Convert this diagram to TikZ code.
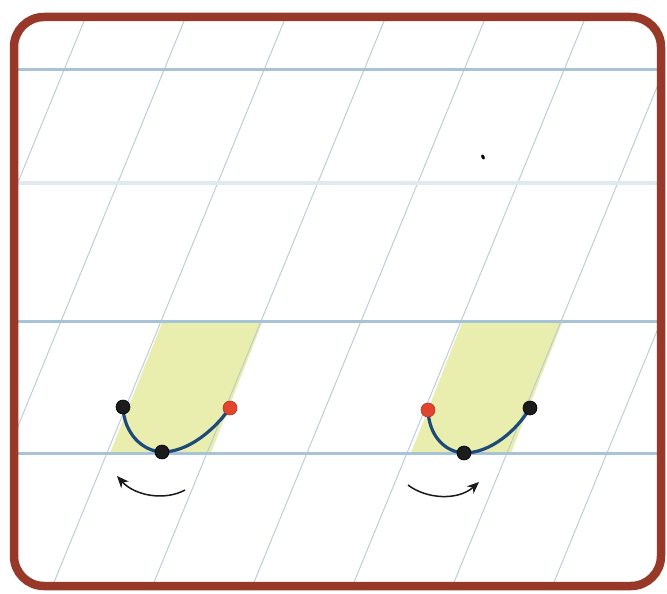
\documentclass[tikz,border=0pt]{standalone}
\usetikzlibrary{arrows.meta}
\definecolor{bordercol}{HTML}{983828}
\definecolor{rulecol}{HTML}{A8C3D5}
\definecolor{faintcol}{HTML}{DFE9F0}
\definecolor{slantcol}{HTML}{B9C9D9}
\definecolor{cellcol}{HTML}{E9EEAE}
\definecolor{strokecol}{HTML}{1E4A7A}
\definecolor{dotred}{HTML}{E2452C}
\definecolor{dotblack}{HTML}{1C1C1C}
\tikzset{
  rule/.style={rulecol, line width=3pt},
  faintrule/.style={faintcol, line width=4pt},
  slant/.style={slantcol, line width=0.9pt},
  cell/.style={fill=cellcol, draw=none},
  stroke/.style={strokecol, line width=3.2pt},
  dotb/.style={circle, fill=dotblack, draw=black, line width=0.6pt, minimum size=14pt, inner sep=0pt},
  dotr/.style={circle, fill=dotred, draw=dotred!80!black, line width=0.6pt, minimum size=14pt, inner sep=0pt},
  turn/.style={black!90, line width=1.5pt, -{Stealth[length=12pt,width=10pt]}},
  frame/.style={bordercol, line width=8.5pt, rounded corners=30pt}
}
\begin{document}
\begin{tikzpicture}[x=1pt,y=-1pt]
\useasboundingbox (0,0) rectangle (667,594);
\fill[white] (0,0) rectangle (667,594);
\begin{scope}
  \clip[rounded corners=28pt] (14,17) rectangle (661,586);
  % cells
  \fill[cell] (162,323) -- (262,323) -- (211,453) -- (110,453) -- cycle;
  \fill[cell] (462,323) -- (562,323) -- (511,453) -- (411,453) -- cycle;
  % slanted lines
  \foreach \k in {-2,...,7} {
    \draw[slant] ({192.7+100*\k},0) -- ({-50.8+100*\k},594);
  }
  % horizontal rules
  \draw[faintrule] (0,183) -- (667,183);
  \draw[rule] (0,70) -- (667,70);
  \draw[rule] (0,321) -- (667,321);
  \draw[rule] (0,453) -- (667,453);
\end{scope}
\draw[frame] (14,17) rectangle (661,586);
% speck
\fill[black] (483,157) ellipse [x radius=1.6pt, y radius=2.6pt, rotate=25];
% first letter element
\coordinate (l1) at (123,407);
\coordinate (b1) at (162,452);
\coordinate (r1) at (230,408);
\draw[stroke] (l1) .. controls (124,433) and (142,451) .. (b1)
                   .. controls (189,452) and (215,429) .. (r1);
\node[dotb] (nl1) at (l1) {};
\node[dotb] (nb1) at (b1) {};
\node[dotr] (nr1) at (r1) {};
\coordinate (a1s) at (185,490);
\coordinate (a1e) at (117,476);
\draw[turn] (a1s) .. controls (165,501) and (135,496) .. (a1e);
% second letter element
\coordinate (r2) at (428,410);
\coordinate (b2) at (464,453);
\coordinate (k2) at (530,408);
\draw[stroke] (r2) .. controls (429,436) and (445,452) .. (b2)
                   .. controls (491,453) and (517,430) .. (k2);
\node[dotr] (nr2) at (r2) {};
\node[dotb] (nb2) at (b2) {};
\node[dotb] (nk2) at (k2) {};
\coordinate (a2s) at (408,485);
\coordinate (a2e) at (479,482);
\draw[turn] (a2s) .. controls (426,499) and (458,501) .. (a2e);
\end{tikzpicture}
\end{document}
